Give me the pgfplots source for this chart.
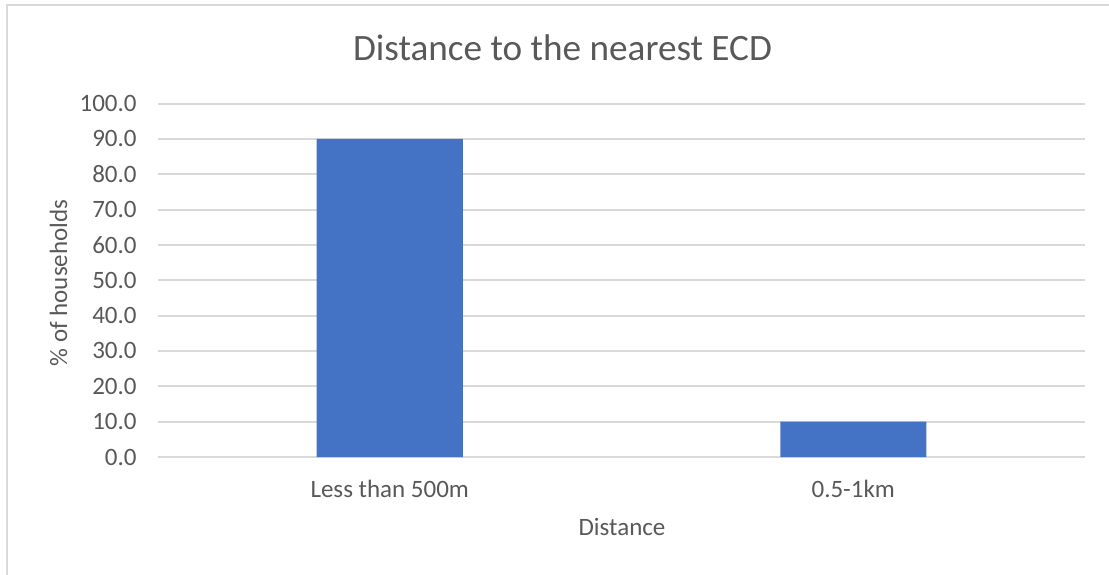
\documentclass[border=0pt]{standalone}
\usepackage{pgfplots}
\pgfplotsset{compat=1.18}
\usepackage{fontspec}
\setmainfont{Carlito}
\definecolor{barblue}{HTML}{4472C4}
\definecolor{gridgray}{HTML}{D9D9D9}
\definecolor{txtgray}{HTML}{595959}
\begin{document}
\begin{tikzpicture}
\useasboundingbox (0,0) rectangle (554.5pt,287pt);
\draw[gridgray, line width=0.9pt] (3.5pt,-5pt) -- (3.5pt,284.5pt) -- (560pt,284.5pt);
\begin{axis}[
  at={(79pt,58.5pt)}, anchor=south west,
  scale only axis, width=463.5pt, height=176.75pt,
  xmin=-0.5, xmax=1.5, ymin=0, ymax=100,
  ytick={0,10,...,100},
  xtick=data, xticklabels={Less than 500m, 0.5-1km},
  axis line style={draw=none},
  major tick length=0pt,
  ymajorgrids, grid style={gridgray, line width=1pt},
  yticklabel style={/pgf/number format/fixed, /pgf/number format/fixed zerofill, /pgf/number format/precision=1, /pgf/number format/assume math mode=true},
  tick label style={font=\fontsize{12.5pt}{15pt}\selectfont, text=txtgray},
  yticklabel style={inner sep=0pt, xshift=-10.5pt},
  xticklabel style={anchor=base, inner sep=0pt, yshift=-20pt},
  ybar, bar width=0.315,
]
\addplot[fill=barblue, draw=none] coordinates {(0,90.0) (1,10.0)};
\end{axis}
\node[anchor=base, text=txtgray, font=\fontsize{18.6pt}{22pt}\selectfont] at (281.25pt,256.5pt) {Distance to the nearest ECD};
\node[anchor=base, text=txtgray, font=\fontsize{12.5pt}{15pt}\selectfont] at (311pt,19.5pt) {Distance};
\node[anchor=base, rotate=90, text=txtgray, font=\fontsize{12.5pt}{15pt}\selectfont] at (33.5pt,145.5pt) {\% of households};
\end{tikzpicture}
\end{document}
